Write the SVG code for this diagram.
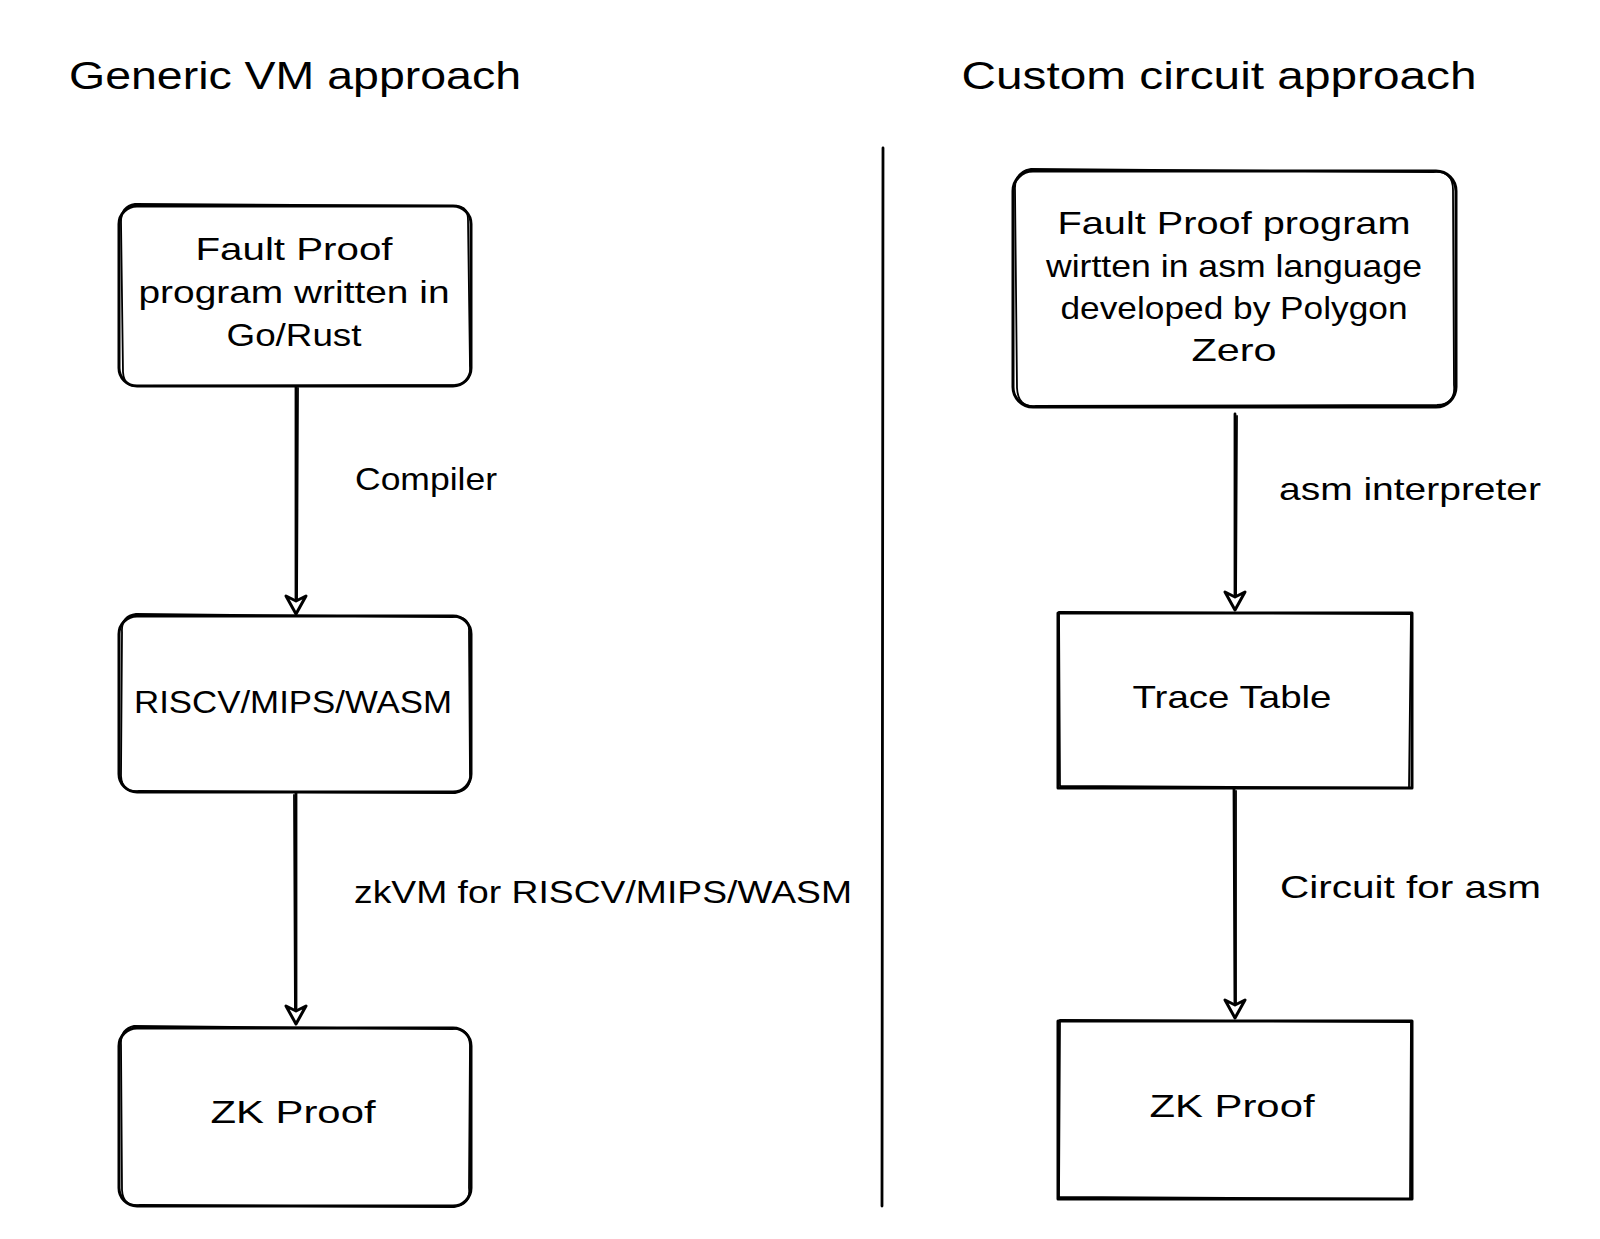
<svg xmlns="http://www.w3.org/2000/svg" width="1600" height="1239" viewBox="0 0 1600 1239">
<style>
.bx{fill:none;stroke:#000;stroke-width:3;stroke-linejoin:round;stroke-linecap:round}
.bx2{fill:none;stroke:#000;stroke-width:1.8;stroke-linejoin:round;stroke-linecap:round}
.ln{fill:none;stroke:#000;stroke-width:2.8;stroke-linecap:round}
.ah{fill:#fff;stroke:#000;stroke-width:3;stroke-linejoin:round}
text{font-family:"Liberation Sans",Arial,sans-serif;fill:#000;text-anchor:middle}
.t{font-size:32px}
.h{font-size:38px}
.lb{font-size:32px;text-anchor:start}
</style>
<rect width="1600" height="1239" fill="#fff"/>

<text class="h" x="295" y="89" textLength="452" lengthAdjust="spacingAndGlyphs">Generic VM approach</text>
<text class="h" x="1219" y="89" textLength="515" lengthAdjust="spacingAndGlyphs">Custom circuit approach</text>

<g id="divider"><path class="ln" d="M883 148 L882 1206"/></g>

<g id="n1">
<rect class="bx" x="119" y="206" width="352" height="180" rx="18"/>
<path class="bx2" d="M135 204 Q121 206 121 222 L123 372 Q124 388 140 386 L455 385 Q472 383 470 366 L468 220 Q468 204 452 206 Z"/>
<text class="t" x="294" y="260" textLength="197" lengthAdjust="spacingAndGlyphs">Fault Proof</text>
<text class="t" x="294" y="303" textLength="311" lengthAdjust="spacingAndGlyphs">program written in</text>
<text class="t" x="294" y="346" textLength="135" lengthAdjust="spacingAndGlyphs">Go/Rust</text>
</g>

<g id="n2">
<rect class="bx" x="119" y="616" width="352" height="176" rx="18"/>
<path class="bx2" d="M136 614 Q121 616 122 632 L121 776 Q122 793 139 791 L455 793 Q472 790 470 774 L469 632 Q470 615 452 617 Z"/>
<text class="t" x="293" y="713" textLength="318" lengthAdjust="spacingAndGlyphs">RISCV/MIPS/WASM</text>
</g>

<g id="n3">
<rect class="bx" x="119" y="1028" width="352" height="178" rx="18"/>
<path class="bx2" d="M134 1026 Q120 1029 121 1045 L122 1190 Q123 1207 140 1205 L454 1207 Q471 1205 469 1188 L470 1045 Q469 1027 452 1029 Z"/>
<text class="t" x="293" y="1123" textLength="165" lengthAdjust="spacingAndGlyphs">ZK Proof</text>
</g>

<g id="n4">
<rect class="bx" x="1013" y="171" width="443" height="236" rx="20"/>
<path class="bx2" d="M1031 169 Q1014 172 1015 190 L1017 388 Q1018 408 1036 406 L1437 405 Q1456 404 1454 385 L1453 190 Q1453 170 1433 172 Z"/>
<text class="t" x="1234" y="234" textLength="353" lengthAdjust="spacingAndGlyphs">Fault Proof program</text>
<text class="t" x="1234" y="277" textLength="376" lengthAdjust="spacingAndGlyphs">wirtten in asm language</text>
<text class="t" x="1234" y="319" textLength="347" lengthAdjust="spacingAndGlyphs">developed by Polygon</text>
<text class="t" x="1234" y="361" textLength="85" lengthAdjust="spacingAndGlyphs">Zero</text>
</g>

<g id="n5">
<rect class="bx" x="1058" y="613" width="354" height="175"/>
<path class="bx2" d="M1059 612 L1411 614 L1409 788 L1060 786 Z"/>
<text class="t" x="1232" y="708" textLength="199" lengthAdjust="spacingAndGlyphs">Trace Table</text>
</g>

<g id="n6">
<rect class="bx" x="1058" y="1021" width="354" height="178"/>
<path class="bx2" d="M1060 1020 L1411 1022 L1410 1199 L1059 1197 Z"/>
<text class="t" x="1232" y="1117" textLength="165" lengthAdjust="spacingAndGlyphs">ZK Proof</text>
</g>

<g id="connectors">
<path class="ln" d="M296 387 L296 612"/>
<path class="bx2" d="M298 388 L297 610"/>
<path class="ah" d="M286 596 L296 614 L306 596 L296 601 Z"/>

<path class="ln" d="M296 793 L296 1022"/>
<path class="bx2" d="M294 795 L295 1020"/>
<path class="ah" d="M286 1006 L296 1024 L306 1006 L296 1011 Z"/>

<path class="ln" d="M1235 414 L1235 608"/>
<path class="bx2" d="M1237 416 L1236 606"/>
<path class="ah" d="M1225 592 L1235 610 L1245 592 L1235 597 Z"/>

<path class="ln" d="M1234 789 L1235 1016"/>
<path class="bx2" d="M1236 791 L1236 1014"/>
<path class="ah" d="M1225 1000 L1235 1018 L1245 1000 L1235 1005 Z"/>
</g>

<g id="labels">
<text class="lb" x="355" y="490" textLength="142" lengthAdjust="spacingAndGlyphs">Compiler</text>
<text class="lb" x="354" y="903" textLength="498" lengthAdjust="spacingAndGlyphs">zkVM for RISCV/MIPS/WASM</text>
<text class="lb" x="1279" y="500" textLength="262" lengthAdjust="spacingAndGlyphs">asm interpreter</text>
<text class="lb" x="1280" y="898" textLength="261" lengthAdjust="spacingAndGlyphs">Circuit for asm</text>
</g>
</svg>
